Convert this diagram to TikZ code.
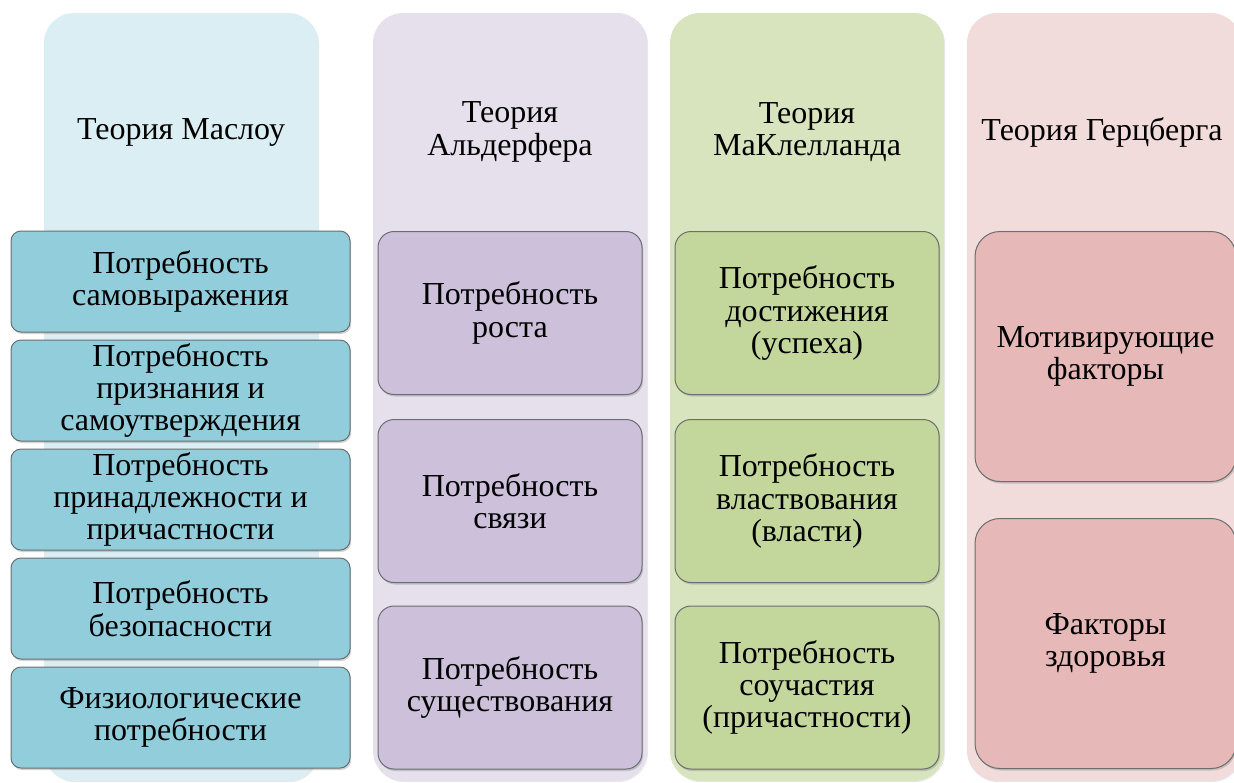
\documentclass[tikz,border=0pt]{standalone}
\usepackage{fontspec}
\setmainfont{Liberation Serif}
\usepackage{tikz}
\usetikzlibrary{shadows}
\definecolor{MaslowBack}{RGB}{218, 238, 243}
\definecolor{MaslowBox}{RGB}{146, 205, 220}
\definecolor{AlderferBack}{RGB}{229, 224, 236}
\definecolor{AlderferBox}{RGB}{204, 192, 218}
\definecolor{McClellandBack}{RGB}{216, 228, 189}
\definecolor{McClellandBox}{RGB}{195, 214, 155}
\definecolor{HerzbergBack}{RGB}{242, 220, 219}
\definecolor{HerzbergBox}{RGB}{230, 185, 184}
\definecolor{BoxEdge}{RGB}{105, 110, 112}

\begin{document}
\begin{tikzpicture}[x=0.5pt, y=-0.5pt,
    column/.style={fill=#1, rounded corners=15pt, minimum width=137pt, minimum height=384pt, inner sep=0pt,
        drop shadow={shadow xshift=0.5pt, shadow yshift=-0.5pt, opacity=0.18}},
    need/.style={fill=#1, draw=BoxEdge, line width=0.5pt, inner sep=0pt, align=center,
        drop shadow={shadow xshift=0.6pt, shadow yshift=-1pt, opacity=0.35}},
    title/.style={align=center, inner sep=0pt},
    every node/.append style={font=\fontsize{16}{16.2}\selectfont}]
    \useasboundingbox (0,0) rectangle (1234,782);
    \clip (0,0) rectangle (1234,782);

    % columns
    \node[column=MaslowBack] (maslow) at (181,397) {};
    \node[column=AlderferBack] (alderfer) at (510,397) {};
    \node[column=McClellandBack] (mcclelland) at (807,397) {};
    \node[column=HerzbergBack] (herzberg) at (1104,397) {};

    \node[title] (maslowT) at (181,132) {Теория Маслоу};
    \node[title] (alderferT) at (510,132) {Теория\\Альдерфера};
    \node[title] (mcclellandT) at (807,132) {Теория\\МаКлелланда};
    \node[title] (herzbergT) at (1102,132) {Теория Герцберга};

    % Maslow
    \begin{scope}[every node/.append style={need=MaslowBox, rounded corners=5pt, minimum width=169.5pt, minimum height=50.5pt}]
        \node (selfexpr) at (180.5,281.5) {Потребность\\самовыражения};
        \node (esteem) at (180.5,390.5) {Потребность\\признания и\\самоутверждения};
        \node (belong) at (180.5,499.5) {Потребность\\принадлежности и\\причастности};
        \node (safety) at (180.5,608.5) {Потребность\\безопасности};
        \node (physio) at (180.5,717.5) {Физиологические\\потребности};
    \end{scope}

    % Alderfer
    \begin{scope}[every node/.append style={need=AlderferBox, rounded corners=8pt, minimum width=132pt, minimum height=81.5pt}]
        \node (growth) at (510,313) {Потребность\\роста};
        \node (relate) at (510,501) {Потребность\\связи};
        \node (exist) at (510,687.5) {Потребность\\существования};
    \end{scope}

    % McClelland
    \begin{scope}[every node/.append style={need=McClellandBox, rounded corners=8pt, minimum width=132pt, minimum height=81.5pt}]
        \node (achieve) at (807,313) {Потребность\\достижения\\(успеха)};
        \node (power) at (807,501) {Потребность\\властвования\\(власти)};
        \node (affil) at (807,687.5) {Потребность\\соучастия\\(причастности)};
    \end{scope}

    % Herzberg
    \begin{scope}[every node/.append style={need=HerzbergBox, rounded corners=12.5pt, minimum width=130.5pt, minimum height=125pt}]
        \node (motiv) at (1105.5,356.5) {Мотивирующие\\факторы};
        \node (hygiene) at (1105.5,643.5) {Факторы\\здоровья};
    \end{scope}
\end{tikzpicture}
\end{document}
